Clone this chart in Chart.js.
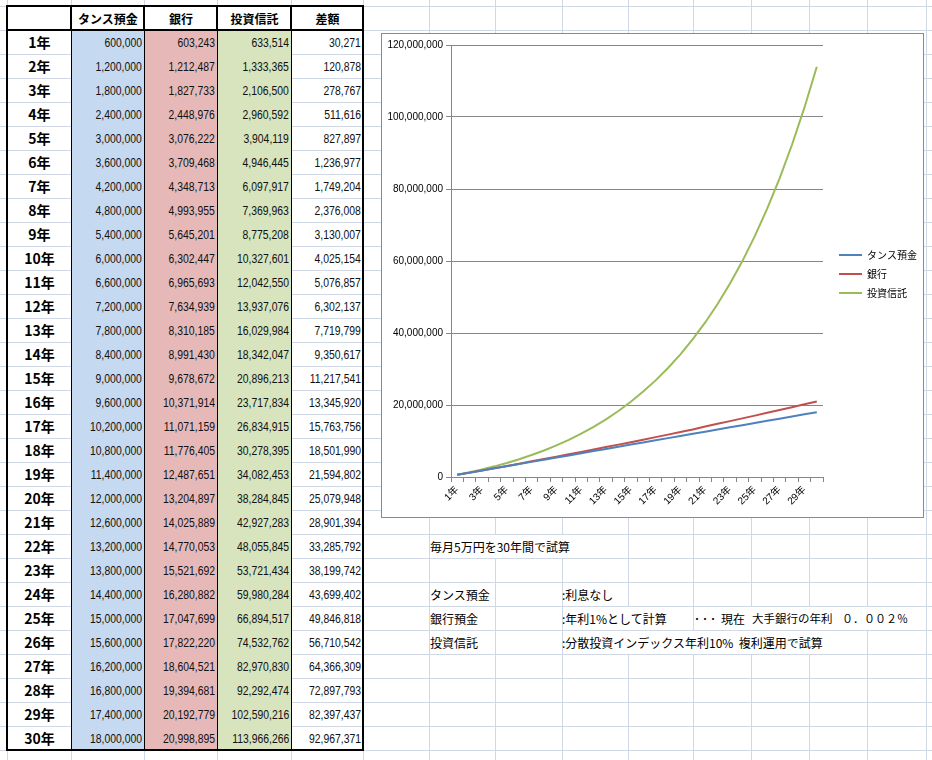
<!DOCTYPE html>
<html><head><meta charset="utf-8">
<script src="https://cdn.jsdelivr.net/npm/chart.js@4.4.1/dist/chart.umd.min.js"></script>
<style>
html,body{margin:0;padding:0;background:#fff;width:932px;height:760px;overflow:hidden;position:relative;font-family:"Noto Sans CJK JP",sans-serif;color:#000;}
.gl{position:absolute;background:#d0d7e5;}
.fill{position:absolute;}
.cell{position:absolute;display:flex;align-items:center;box-sizing:border-box;white-space:nowrap;}
.num{justify-content:flex-end;padding-right:2px;}
.num span{display:inline-block;font-family:"Liberation Sans",Arial,sans-serif;font-size:13px;transform:scaleX(0.8);transform-origin:100% 50%;color:#111;}
.yr{justify-content:center;font-weight:700;font-size:14px;}
.hd{justify-content:center;font-weight:700;font-size:12px;}
.bk{position:absolute;background:#000;}
.note{position:absolute;font-size:12px;white-space:nowrap;line-height:23px;height:23px;}
.cover{position:absolute;background:#fff;height:23px;}
#chartBox{position:absolute;left:381px;top:33px;width:543px;height:485px;box-sizing:border-box;border:1px solid #8a8a8a;background:#fff;}
#chartBox canvas{display:block;}
</style></head><body>
<div id="sheet"></div>
<div id="chartBox"><canvas id="c" width="541" height="483"></canvas></div>
<script>
// ---- data ----
const years = ['1年','2年','3年','4年','5年','6年','7年','8年','9年','10年','11年','12年','13年','14年','15年','16年','17年','18年','19年','20年','21年','22年','23年','24年','25年','26年','27年','28年','29年','30年'];
const tansuYokin = [600000,1200000,1800000,2400000,3000000,3600000,4200000,4800000,5400000,6000000,6600000,7200000,7800000,8400000,9000000,9600000,10200000,10800000,11400000,12000000,12600000,13200000,13800000,14400000,15000000,15600000,16200000,16800000,17400000,18000000];
const ginkou = [603243,1212487,1827733,2448976,3076222,3709468,4348713,4993955,5645201,6302447,6965693,7634939,8310185,8991430,9678672,10371914,11071159,11776405,12487651,13204897,14025889,14770053,15521692,16280882,17047699,17822220,18604521,19394681,20192779,20998895];
const toushiShintaku = [633514,1333365,2106500,2960592,3904119,4946445,6097917,7369963,8775208,10327601,12042550,13937076,16029984,18342047,20896213,23717834,26834915,30278395,34082453,38284845,42927283,48055845,53721434,59980284,66894517,74532762,82970830,92292474,102590216,113966266];
const sagaku = [30271,120878,278767,511616,827897,1236977,1749204,2376008,3130007,4025154,5076857,6302137,7719799,9350617,11217541,13345920,15763756,18501990,21594802,25079948,28901394,33285792,38199742,43699402,49846818,56710542,64366309,72897793,82397437,92967371];
const tableHeaders = ['', 'タンス預金', '銀行', '投資信託', '差額'];
const seriesNames = ['タンス預金', '銀行', '投資信託'];
const yMin = 0, yMax = 120000000, yStep = 20000000;

// ---- spreadsheet layout ----
const sheet = document.getElementById('sheet');
function add(cls, l, t, w, h, html, style) {
  const d = document.createElement('div');
  d.className = cls;
  d.style.left = l + 'px'; d.style.top = t + 'px';
  if (w != null) d.style.width = w + 'px';
  if (h != null) d.style.height = h + 'px';
  if (html != null) d.innerHTML = html;
  if (style) Object.assign(d.style, style);
  sheet.appendChild(d);
  return d;
}
const gridCols = [7,71,144,217,291,363,429,495,562,628,693,751,809,867,926];
for (let k = 0; k <= 31; k++) add('gl', 0, 6 + 24 * k, 932, 1);
gridCols.forEach(x => add('gl', x, 0, 1, 760));

const colX = [7,71,144,217,291,363];
const fills = [null, '#c5d9f1', '#e6b9b8', '#d7e4bd', null];
for (let j = 1; j <= 3; j++) add('fill', colX[j] + 1, 31, colX[j + 1] - colX[j] - 1, 719, null, {background: fills[j]});

// header
for (let j = 1; j < 5; j++) add('cell hd', colX[j] + 1, 7, colX[j + 1] - colX[j] - 1, 23, tableHeaders[j]);
const cols = [tansuYokin, ginkou, toushiShintaku, sagaku];
years.forEach((y, i) => {
  const top = 30 + 24 * i;
  add('cell yr', 8, top, 63, 24, y);
  cols.forEach((arr, j) => {
    add('cell num', colX[j + 1] + 1, top, colX[j + 2] - colX[j + 1] - 1, 24, '<span>' + arr[i].toLocaleString('en-US') + '</span>');
  });
});
// borders
add('bk', 6, 5, 358, 2); add('bk', 6, 749, 358, 2);
add('bk', 6, 5, 2, 746); add('bk', 362, 5, 2, 746);
add('bk', 6, 29, 358, 2);
[71,144,217,291].forEach(x => { add('bk', x - 1, 5, 2, 26); add('bk', x, 31, 1, 719); });

// notes
add('cover', 430, 535, 197);
add('note', 430, 535, null, null, '毎月5万円を30年間で試算');
add('note', 430, 583, null, null, 'タンス預金');
add('note', 562, 583, null, null, ':利息なし');
add('note', 430, 607, null, null, '銀行預金');
add('cover', 563, 607, 129);
add('note', 562, 607, null, null, ':年利1%として計算');
add('cover', 694, 607, 231);
add('note', 694, 607, null, null, '･･･', {letterSpacing:'2px'});
add('note', 721, 607, null, null, '現在');
add('note', 752, 607, null, null, '大手銀行の年利', {fontSize:'11.5px'});
add('note', 842, 607, null, null, '０．００２％', {fontSize:'11px'});
add('note', 430, 631, null, null, '投資信託');
add('cover', 563, 631, 303);
add('note', 562, 631, null, null, ':分散投資インデックス年利10%&nbsp;&nbsp;複利運用で試算');

// ---- chart ----
const chartFont = {family: "'Liberation Sans', 'Noto Sans CJK JP', sans-serif", size: 10};
const colors = ['#4f81bd', '#c0504d', '#9bbb59'];
const seriesData = [tansuYokin, ginkou, toushiShintaku];
new Chart(document.getElementById('c'), {
  type: 'line',
  data: {
    labels: years,
    datasets: seriesNames.map((n, i) => ({
      label: n, data: seriesData[i], borderColor: colors[i], backgroundColor: colors[i],
      borderWidth: 2, pointRadius: 0, tension: 0, fill: false
    }))
  },
  options: {
    responsive: false, animation: false,
    layout: {padding: {top: 11, left: 0, bottom: 0, right: 3}},
    plugins: {
      tooltip: {enabled: false},
      legend: {
        position: 'right',
        labels: {usePointStyle: true, pointStyle: 'line', pointStyleWidth: 23, color: '#000',
                 font: {family: "'Noto Sans CJK JP', sans-serif", size: 10}, padding: 9}
      }
    },
    scales: {
      x: {
        offset: true,
        grid: {offset: true, drawOnChartArea: false, drawTicks: true, tickLength: 5, color: '#868686'},
        border: {color: '#868686'},
        ticks: {autoSkip: false, maxRotation: 45, minRotation: 45, color: '#000', font: chartFont, padding: 2,
                callback: (v, i) => (i % 2 === 0 ? years[i] : '')},
        afterFit: s => { s.height = 40; }
      },
      y: {
        min: yMin, max: yMax,
        grid: {color: '#868686', tickLength: 5},
        border: {color: '#868686'},
        ticks: {stepSize: yStep, color: '#000', font: chartFont, padding: 3,
                callback: v => Number(v).toLocaleString('en-US')},
        afterFit: s => { s.width = 69; }
      }
    }
  },
  plugins: [{
    id: 'legendShift',
    afterLayout(c) { const l = c.legend; if (l) { l.left += 7; l.right += 7; l.top -= 7; l.bottom -= 7; } }
  }]
});
</script>
</body></html>
